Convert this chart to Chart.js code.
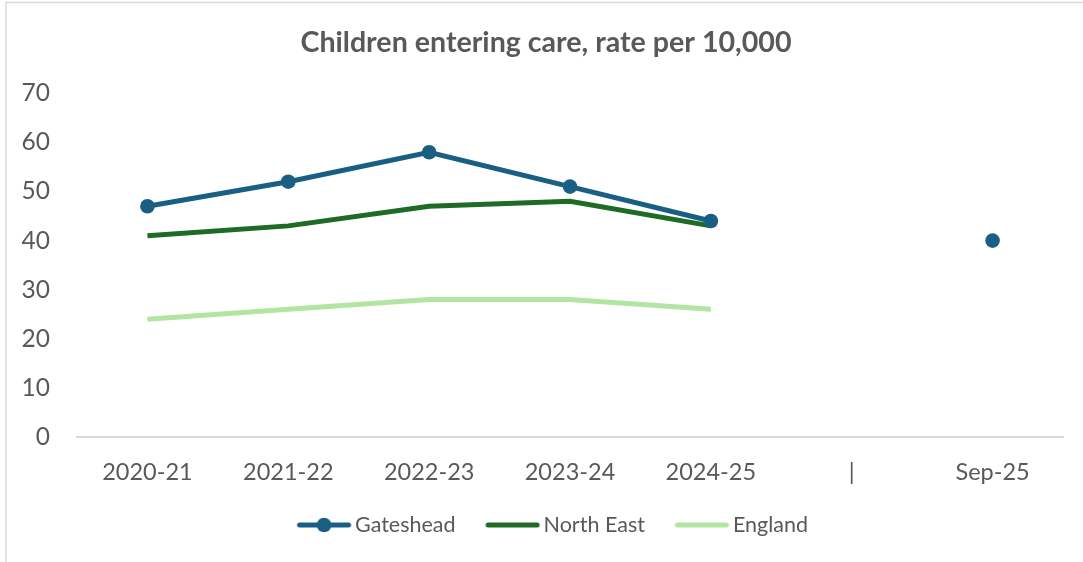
<!DOCTYPE html>
<html>
<head>
<meta charset="utf-8">
<script src="https://cdn.jsdelivr.net/npm/chart.js@4.4.1/dist/chart.umd.min.js"></script>
<style>
  html, body { margin: 0; padding: 0; background: #ffffff; }
  #wrap { position: relative; width: 1083px; height: 562px; }
</style>
</head>
<body>
<div id="wrap"><canvas id="c" width="1083" height="562"></canvas></div>
<script>
const categories = ['2020-21', '2021-22', '2022-23', '2023-24', '2024-25', '|', 'Sep-25'];
const gateshead = [47, 52, 58, 51, 44, null, 40];
const northEast = [41, 43, 47, 48, 43, null, null];
const england = [24, 26, 28, 28, 26, null, null];
const yTicks = [0, 10, 20, 30, 40, 50, 60, 70];

const COL_GATES = '#195f83';
const COL_NE = '#1d6b24';
const COL_ENG = '#b3e5a2';
const TXT = '#595959';
const FONT = 'Lato, "Open Sans", sans-serif';

const LEG_FS = 21.5;
const LEG_BOX = 58 - LEG_FS / 2;

function legendIcon(color, marker) {
  const cv = document.createElement('canvas');
  cv.width = 100; cv.height = 18;
  const g = cv.getContext('2d');
  const a = cv.width / 2 - LEG_BOX / 2;
  g.strokeStyle = color; g.lineWidth = 5; g.lineCap = 'round';
  g.beginPath(); g.moveTo(a + 2.5, 9); g.lineTo(a + 51.5, 9); g.stroke();
  if (marker) {
    g.fillStyle = color;
    g.beginPath(); g.arc(a + 27, 9, 7.3, 0, Math.PI * 2); g.fill();
  }
  return cv;
}

const borderPlugin = {
  id: 'frame',
  afterLayout(chart) {
    // Title and legend are centred slightly right of the canvas centre, as in the reference
    if (chart.titleBlock) { chart.titleBlock.left = 29; }
    if (chart.legend) { chart.legend.left = 42; }
  },
  beforeDraw(chart) {
    const ctx = chart.ctx;
    ctx.save();
    ctx.fillStyle = '#ffffff';
    ctx.fillRect(0, 0, chart.width, chart.height);
    ctx.strokeStyle = '#d9d9d9';
    ctx.lineWidth = 1.5;
    ctx.beginPath();
    ctx.moveTo(6, 562); ctx.lineTo(6, 2.5); ctx.lineTo(1083, 2.5);
    ctx.stroke();
    ctx.restore();
  }
};

new Chart(document.getElementById('c'), {
  type: 'line',
  data: {
    labels: categories,
    datasets: [
      { label: 'Gateshead', data: gateshead, borderColor: COL_GATES, backgroundColor: COL_GATES,
        borderWidth: 5, pointRadius: 7.3, pointHoverRadius: 7.3, pointBackgroundColor: COL_GATES,
        pointBorderWidth: 0, spanGaps: false, tension: 0, pointStyle: 'circle', order: 0 },
      { label: 'North East', data: northEast, borderColor: COL_NE, backgroundColor: COL_NE,
        borderWidth: 5, pointRadius: 0, pointHoverRadius: 0, tension: 0, order: 1 },
      { label: 'England', data: england, borderColor: COL_ENG, backgroundColor: COL_ENG,
        borderWidth: 5, pointRadius: 0, pointHoverRadius: 0, tension: 0, order: 2 }
    ]
  },
  options: {
    responsive: false,
    animation: false,
    layout: { padding: { left: 0, right: 20, top: 0, bottom: 16.25 } },
    plugins: {
      title: {
        display: true,
        text: 'Children entering care, rate per 10,000',
        color: TXT,
        font: { family: FONT, size: 28.6, weight: 'bold' },
        padding: { top: 25.75, bottom: 33.25 }
      },
      legend: {
        position: 'bottom',
        labels: {
          color: TXT,
          font: { family: FONT, size: LEG_FS },
          usePointStyle: true,
          pointStyleWidth: LEG_BOX,
          padding: 30,
          generateLabels(chart) {
            const icons = [legendIcon(COL_GATES, true), legendIcon(COL_NE, false), legendIcon(COL_ENG, false)];
            return chart.data.datasets.map((ds, i) => ({
              text: ds.label,
              pointStyle: icons[i],
              fillStyle: ds.borderColor,
              strokeStyle: ds.borderColor,
              lineWidth: 0,
              fontColor: TXT,
              hidden: false,
              datasetIndex: i
            }));
          }
        }
      },
      tooltip: { enabled: false }
    },
    scales: {
      x: {
        offset: true,
        afterFit(scale) { scale.height = 47.25; },
        grid: { display: false, drawTicks: false },
        border: { display: true, color: '#d9d9d9', width: 2 },
        ticks: { color: TXT, font: { family: FONT, size: 23.5 }, padding: 21, maxRotation: 0, autoSkip: false }
      },
      y: {
        min: 0, max: 70,
        afterBuildTicks(scale) { scale.ticks = yTicks.map(v => ({ value: v })); },
        afterFit(scale) { scale.width = 77; },
        grid: { display: false, drawTicks: false },
        border: { display: false },
        ticks: { color: TXT, font: { family: FONT, size: 24.5 }, padding: 27 }
      }
    }
  },
  plugins: [borderPlugin]
});
</script>
</body>
</html>
